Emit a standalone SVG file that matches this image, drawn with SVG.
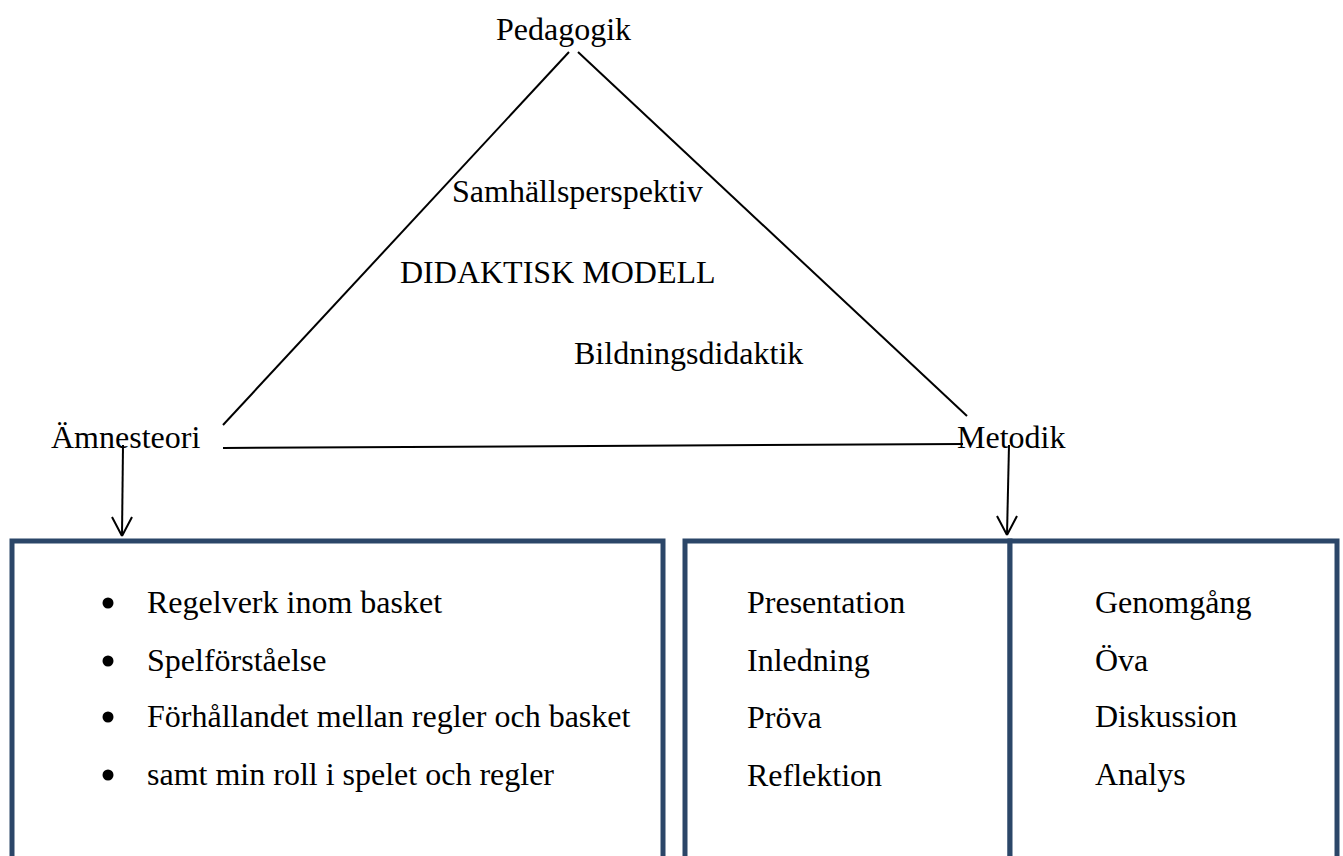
<svg xmlns="http://www.w3.org/2000/svg" width="1343" height="856" viewBox="0 0 1343 856">
<style>
text{font-family:"Liberation Serif","Times New Roman",serif;font-size:32px;fill:#000}
.box{fill:#fff;stroke:#2B4668;stroke-width:5}
.ln{stroke:#000;stroke-width:2;fill:none}
</style>
<defs>
<marker id="ah" viewBox="0 0 22 22" refX="11" refY="20" markerWidth="22" markerHeight="22" markerUnits="userSpaceOnUse" orient="auto-start-reverse">
<path d="M1,1 L11,20 L21,1" fill="none" stroke="#000" stroke-width="2"/>
</marker>
</defs>
<rect width="1343" height="856" fill="#fff"/>
<g id="connectors">
<line class="ln" x1="569" y1="52" x2="223" y2="425"/>
<line class="ln" x1="578" y1="52" x2="967" y2="416"/>
<line class="ln" x1="223" y1="448" x2="963" y2="444"/>
<path d="M123,445 L122,536" stroke="#000" stroke-width="2" fill="none"/>
<path d="M122,536 L112,517 M122,536 L132,517" stroke="#000" stroke-width="2" fill="none"/>
<path d="M1009,445 L1007,535" stroke="#000" stroke-width="2" fill="none"/>
<path d="M1007,535 L997,516 M1007,535 L1017,516" stroke="#000" stroke-width="2" fill="none"/>
</g>
<g id="pedagogik"><text x="496" y="40">Pedagogik</text></g>
<g id="amnesteori"><text x="51" y="448">Ämnesteori</text></g>
<g id="metodik"><text x="957" y="448">Metodik</text></g>
<g id="center">
<text x="452" y="202">Samhällsperspektiv</text>
<text x="400" y="283">DIDAKTISK MODELL</text>
<text x="574" y="364">Bildningsdidaktik</text>
</g>
<g id="box-amnesteori">
<rect class="box" x="12" y="541" width="651" height="400"/>
<circle cx="108" cy="603" r="5.5"/>
<circle cx="108" cy="661" r="5.5"/>
<circle cx="108" cy="717" r="5.5"/>
<circle cx="108" cy="775" r="5.5"/>
<text x="147" y="613">Regelverk inom basket</text>
<text x="147" y="671">Spelförståelse</text>
<text x="147" y="727">Förhållandet mellan regler och basket</text>
<text x="147" y="785">samt min roll i spelet och regler</text>
</g>
<g id="box-metodik-1">
<rect class="box" x="685" y="541" width="325" height="400"/>
<text x="747" y="613">Presentation</text>
<text x="747" y="671">Inledning</text>
<text x="747" y="728">Pröva</text>
<text x="747" y="786">Reflektion</text>
</g>
<g id="box-metodik-2">
<rect class="box" x="1010" y="541" width="327" height="400"/>
<text x="1095" y="613">Genomgång</text>
<text x="1095" y="671">Öva</text>
<text x="1095" y="727">Diskussion</text>
<text x="1095" y="785">Analys</text>
</g>
</svg>
